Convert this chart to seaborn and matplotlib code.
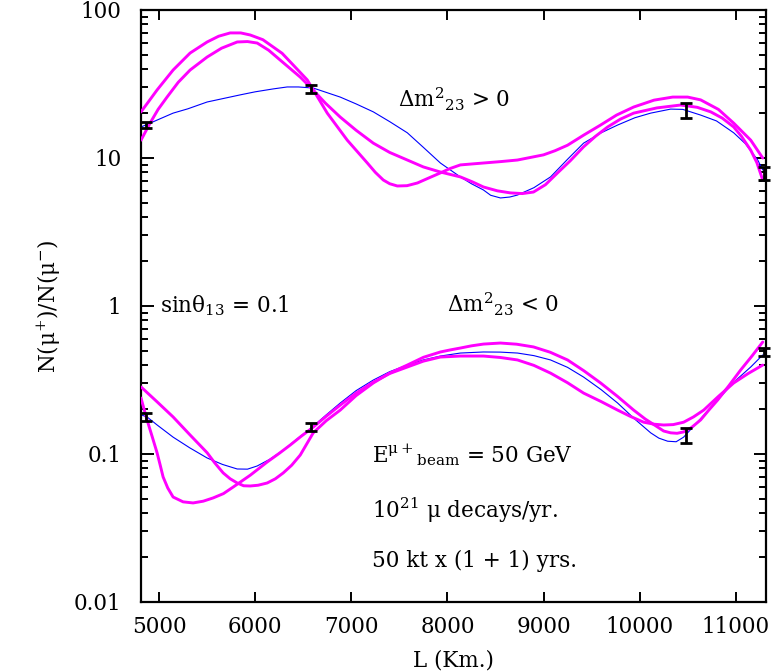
import numpy as np
import pandas as pd
import matplotlib
matplotlib.use("Agg")
import matplotlib.pyplot as plt
import seaborn as sns

# ---------------- data ----------------
# Upper group: Delta m^2_23 > 0
blue_up_L = [4812, 4906, 5146, 5300, 5500, 5844, 6000, 6188, 6333, 6450, 6604, 6885, 7050,
             7229, 7400, 7583, 7750, 7927, 8135, 8250, 8375, 8450, 8552, 8650, 8729, 8900,
             9073, 9250, 9417, 9600, 9771, 9950, 10115, 10323, 10450, 10635, 10800, 10979,
             11100, 11229, 11281]
blue_up_R = [16.2, 17.2, 20.1, 21.5, 23.9, 26.7, 28.0, 29.3, 30.2, 30.2, 29.7, 25.8, 23.2,
             20.5, 17.6, 14.8, 11.8, 9.25, 7.45, 6.7, 6.08, 5.6, 5.37, 5.45, 5.62, 6.3,
             7.45, 9.8, 12.6, 14.8, 16.7, 18.7, 20.1, 21.4, 21.3, 19.5, 17.8, 14.8,
             12.5, 9.69, 8.3]

mag_up1_L = [4812, 4900, 4979, 5146, 5323, 5500, 5620, 5740, 5850, 5948, 6080, 6188, 6280,
             6365, 6542, 6750, 6958, 7167, 7250, 7333, 7400, 7479, 7580, 7688, 7800, 7927,
             8030, 8135, 8375, 8550, 8729, 9000, 9120, 9250, 9420, 9594, 9760, 9938, 10150,
             10344, 10500, 10635, 10820, 10979, 11156, 11281]
mag_up1_R = [20.5, 24.5, 28.8, 39.3, 51.2, 60.8, 66.5, 70.0, 70.0, 67.8, 63.0, 56.2, 51.0,
             44.6, 33.7, 20.1, 13.2, 9.25, 8.0, 7.10, 6.7, 6.47, 6.5, 6.78, 7.3, 7.93,
             8.5, 8.98, 9.25, 9.45, 9.69, 10.5, 11.2, 12.2, 14.3, 16.7, 19.5, 22.1, 24.6,
             25.8, 25.8, 24.7, 21.3, 17.2, 13.2, 10.0]

mag_up2_L = [4812, 4906, 4990, 5083, 5200, 5323, 5500, 5650, 5813, 5920, 6021, 6140, 6260,
             6469, 6583, 6730, 6885, 7050, 7229, 7400, 7583, 7750, 7927, 8135, 8260, 8375,
             8520, 8656, 8780, 8896, 9020, 9146, 9280, 9417, 9540, 9667, 9800, 9938, 10180,
             10427, 10600, 10740, 10860, 10979, 11060, 11156, 11220, 11281]
mag_up2_R = [13.2, 17.2, 21.3, 25.8, 32.5, 39.3, 48.1, 55.2, 60.8, 61.2, 59.8, 53.5, 45.9,
             35.2, 29.7, 23.5, 18.9, 15.4, 12.6, 10.9, 9.69, 8.7, 8.04, 7.45, 6.9, 6.37,
             6.0, 5.81, 5.75, 5.89, 6.6, 7.93, 9.6, 11.9, 14.0, 16.2, 18.3, 20.1, 21.8,
             22.8, 22.0, 20.5, 18.6, 16.2, 14.0, 11.3, 9.3, 7.10]

# Lower group: Delta m^2_23 < 0
blue_lo_L = [4812, 4875, 4980, 5146, 5320, 5500, 5660, 5813, 5920, 6021, 6150, 6292, 6440,
             6594, 6740, 6885, 7050, 7229, 7400, 7583, 7750, 7927, 8135, 8375, 8550, 8729,
             8900, 9073, 9250, 9417, 9600, 9771, 9950, 10115, 10200, 10292, 10380, 10458,
             10630, 10813, 10990, 11156, 11281]
blue_lo_R = [0.184, 0.178, 0.157, 0.130, 0.110, 0.094, 0.085, 0.0792, 0.079, 0.0830, 0.092,
             0.106, 0.127, 0.152, 0.184, 0.221, 0.268, 0.316, 0.36, 0.399, 0.432, 0.459,
             0.481, 0.489, 0.488, 0.481, 0.462, 0.432, 0.385, 0.331, 0.272, 0.221, 0.172,
             0.139, 0.128, 0.122, 0.121, 0.130, 0.172, 0.232, 0.31, 0.387, 0.467]

mag_lo1_L = [4812, 4840, 4875, 4930, 4979, 5010, 5042, 5090, 5146, 5250, 5354, 5460, 5563,
             5670, 5771, 5950, 6125, 6250, 6365, 6480, 6594, 6740, 6885, 7050, 7229, 7400,
             7583, 7750, 7927, 8135, 8375, 8550, 8729, 8900, 9073, 9250, 9417, 9600, 9771,
             9900, 10042, 10150, 10250, 10350, 10458, 10560, 10667, 10820, 10979, 11130,
             11281]
mag_lo1_R = [0.239, 0.205, 0.170, 0.130, 0.102, 0.085, 0.070, 0.059, 0.0512, 0.0475, 0.0467,
             0.048, 0.0505, 0.054, 0.0598, 0.072, 0.0883, 0.101, 0.115, 0.132, 0.150, 0.18,
             0.214, 0.258, 0.306, 0.35, 0.387, 0.424, 0.452, 0.459, 0.459, 0.449, 0.432,
             0.397, 0.352, 0.303, 0.258, 0.226, 0.198, 0.18, 0.164, 0.159, 0.157, 0.158,
             0.164, 0.178, 0.198, 0.245, 0.302, 0.35, 0.399]

mag_lo2_L = [4812, 4980, 5146, 5320, 5500, 5580, 5667, 5740, 5813, 5880, 5948, 6030, 6125,
             6210, 6292, 6380, 6469, 6540, 6604, 6740, 6885, 7050, 7229, 7400, 7583, 7750,
             7927, 8030, 8135, 8250, 8375, 8552, 8720, 8896, 9070, 9250, 9420, 9594, 9770,
             9938, 10060, 10188, 10250, 10323, 10390, 10458, 10540, 10635, 10720, 10813,
             10930, 11052, 11170, 11281]
mag_lo2_R = [0.284, 0.225, 0.178, 0.135, 0.102, 0.087, 0.0745, 0.068, 0.0637, 0.061, 0.0608,
             0.0615, 0.0637, 0.068, 0.0745, 0.084, 0.0984, 0.118, 0.139, 0.168, 0.198,
             0.248, 0.302, 0.352, 0.399, 0.45, 0.489, 0.505, 0.520, 0.538, 0.553, 0.562,
             0.552, 0.529, 0.487, 0.432, 0.365, 0.302, 0.245, 0.198, 0.172, 0.152, 0.143,
             0.139, 0.138, 0.141, 0.151, 0.170, 0.198, 0.232, 0.29, 0.370, 0.46, 0.571]

# data points with error bars
pts_L = [4860, 6583, 10479, 11292]
pts_up_R = [16.7, 29.3, 21.1, 7.93]
pts_up_err = [0.7, 2.0, 2.5, 0.8]
pts_lo_R = [0.178, 0.152, 0.134, 0.489]
pts_lo_err = [0.011, 0.009, 0.015, 0.033]

x_ticks = [5000, 6000, 7000, 8000, 9000, 10000, 11000]
y_ticks = [0.01, 0.1, 1, 10, 100]
y_tick_labels = ["0.01", "0.1", "1", "10", "100"]

# ---------------- style ----------------
sns.set_style("ticks")
plt.rcParams["font.family"] = ["DejaVu Serif", "DejaVu Sans"]
plt.rcParams["mathtext.fontset"] = "dejavuserif"

FS = 15.5
fig = plt.figure(figsize=(7.71, 6.72), dpi=100)
ax = fig.add_axes([141 / 771, 70 / 672, (766 - 141) / 771, (602 - 10) / 672])

MAG = "#ff00ff"
BLUE = "#0000ff"

def curve(L, R, color, lw, z):
    df = pd.DataFrame({"L": L, "R": R})
    sns.lineplot(data=df, x="L", y="R", ax=ax, color=color, lw=lw,
                 sort=False, estimator=None, zorder=z)

curve(blue_up_L, blue_up_R, BLUE, 0.8, 2)
curve(blue_lo_L, blue_lo_R, BLUE, 0.8, 2)
curve(mag_up1_L, mag_up1_R, MAG, 2.1, 3)
curve(mag_up2_L, mag_up2_R, MAG, 2.1, 3)
curve(mag_lo1_L, mag_lo1_R, MAG, 2.1, 3)
curve(mag_lo2_L, mag_lo2_R, MAG, 2.1, 3)
for line in ax.get_lines():
    line.set_solid_joinstyle("round")

for R, E in ((pts_up_R, pts_up_err), (pts_lo_R, pts_lo_err)):
    ax.errorbar(pts_L, R, yerr=E, fmt="none", ecolor="black", elinewidth=2.0,
                capsize=4, capthick=2.0, zorder=5, clip_on=False)

ax.set_yscale("log")
ax.set_xlim(4812, 11315)
ax.set_ylim(0.01, 100)
ax.set_xticks(x_ticks)
ax.set_xticklabels([str(t) for t in x_ticks])
ax.set_yticks(y_ticks)
ax.set_yticklabels(y_tick_labels)
ax.xaxis.set_minor_locator(matplotlib.ticker.NullLocator())
ax.yaxis.set_minor_locator(matplotlib.ticker.LogLocator(base=10, subs=np.arange(2, 10)))
ax.yaxis.set_minor_formatter(matplotlib.ticker.NullFormatter())

ax.tick_params(which="both", direction="in", top=True, right=True, width=1.4,
               color="black", labelcolor="black", labelsize=FS)
ax.tick_params(axis="x", which="major", length=7, pad=10)
ax.tick_params(axis="y", which="major", length=9, pad=14)
ax.tick_params(axis="y", which="minor", length=5)
for s in ax.spines.values():
    s.set_linewidth(1.6)
    s.set_color("black")

ax.set_xlabel("L (Km.)", fontsize=FS, labelpad=8, color="black")
ax.set_ylabel("N(μ$^{+}$)/N(μ$^{-}$)", fontsize=FS, labelpad=8, color="black")

kw = dict(fontsize=FS, color="black", va="baseline", ha="left")
ax.text(7490, 22.1, "Δm$^{2}$$_{23}$ > 0", **kw)
ax.text(5010, 0.91, "sinθ$_{13}$ = 0.1", **kw)
ax.text(8000, 0.91, "Δm$^{2}$$_{23}$ < 0", **kw)
ax.text(7219, 0.0883, r"E$^{\mathrm{μ+}}$$_{\mathrm{beam}}$ = 50 GeV", **kw)
ax.text(7219, 0.037, "10$^{21}$ μ decays/yr.", **kw)
ax.text(7219, 0.0172, "50 kt x (1 + 1) yrs.", **kw)

fig.savefig("out.png", dpi=100)
